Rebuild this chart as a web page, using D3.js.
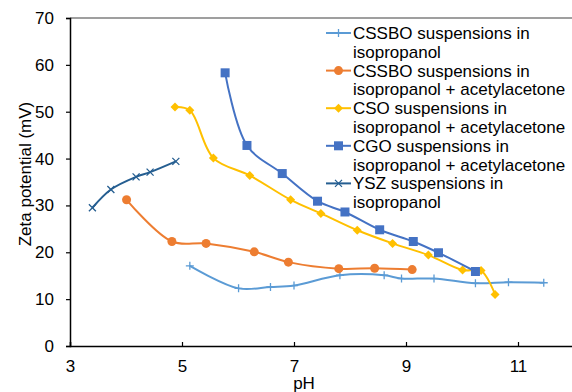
<!DOCTYPE html>
<html>
<head>
<meta charset="utf-8">
<script src="https://cdn.jsdelivr.net/npm/d3@7"></script>
<style>
  body { margin: 0; background: #fff; }
  text { font-family: "Liberation Sans", Arial, sans-serif; }
</style>
</head>
<body>
<script>
// zeta potential vs pH

const cssboPH   = [5.14, 6.01, 6.58, 7.0, 7.82, 8.61, 8.92, 9.5, 10.24, 10.83, 11.46];
const cssboZeta = [17.1, 12.3, 12.6, 12.9, 15.1, 15.1, 14.4, 14.4, 13.4, 13.6, 13.5];

const cssboAcPH   = [4.01, 4.82, 5.43, 6.29, 6.90, 7.80, 8.44, 9.11];
const cssboAcZeta = [31.2, 22.3, 21.9, 20.1, 17.9, 16.5, 16.6, 16.3];

const csoPH   = [4.875, 5.14, 5.56, 6.21, 6.94, 7.48, 8.13, 8.76, 9.40, 10.01, 10.34, 10.59];
const csoZeta = [51.0, 50.3, 40.1, 36.4, 31.2, 28.3, 24.7, 21.9, 19.4, 16.2, 16.1, 11.0];

const cgoPH   = [5.77, 6.16, 6.79, 7.42, 7.91, 8.53, 9.13, 9.58, 10.24];
const cgoZeta = [58.3, 42.8, 36.8, 30.9, 28.6, 24.8, 22.3, 19.9, 15.9];

const yszPH   = [3.40, 3.73, 4.18, 4.43, 4.89];
const yszZeta = [29.5, 33.4, 36.1, 37.1, 39.4];

const seriesNames = [
  ['CSSBO suspensions in', 'isopropanol'],
  ['CSSBO suspensions in', 'isopropanol + acetylacetone'],
  ['CSO suspensions in', 'isopropanol + acetylacetone'],
  ['CGO suspensions in', 'isopropanol + acetylacetone'],
  ['YSZ suspensions in', 'isopropanol']
];
const seriesColors = ['#5B9BD5', '#ED7D31', '#FFC000', '#4472C4', '#255E91'];
const seriesMarkers = ['plus', 'circle', 'diamond', 'square', 'cross'];

const xTicks = [3, 5, 7, 9, 11];
const yTicks = [0, 10, 20, 30, 40, 50, 60, 70];

const width = 572;
const height = 392;
const fontSize = '17px';

const series = [
  [cssboPH, cssboZeta],
  [cssboAcPH, cssboAcZeta],
  [csoPH, csoZeta],
  [cgoPH, cgoZeta],
  [yszPH, yszZeta]
].map((s, i) => ({
  name: seriesNames[i],
  color: seriesColors[i],
  marker: seriesMarkers[i],
  points: s[0].map((x, j) => ({ x: x, y: s[1][j] }))
}));

const svg = d3.select('body')
  .append('svg')
  .attr('width', width)
  .attr('height', height);

const x = d3.scaleLinear().domain([3, 12]).range([70, 574]);
const y = d3.scaleLinear().domain([0, 70]).range([346, 18]);

// top frame line
svg.append('line')
  .attr('x1', x(3)).attr('x2', width)
  .attr('y1', y(70)).attr('y2', y(70))
  .attr('stroke', '#7f7f7f')
  .attr('stroke-width', 1.5);

// axes
const yAxis = svg.append('g')
  .attr('transform', `translate(${x(3)},0)`)
  .call(d3.axisLeft(y).tickValues(yTicks).tickSize(4).tickPadding(12));

const xAxis = svg.append('g')
  .attr('transform', `translate(0,${y(0)})`)
  .call(d3.axisBottom(x).tickValues(xTicks).tickSize(-4).tickPadding(14));

[yAxis, xAxis].forEach(g => {
  g.select('.domain').attr('stroke', '#000').attr('stroke-width', 1.5);
  g.selectAll('.tick line').attr('stroke', '#000').attr('stroke-width', 1.2);
  g.selectAll('.tick text')
    .attr('font-size', fontSize)
    .attr('fill', '#000')
    .style('font-family', '"Liberation Sans", Arial, sans-serif');
});

// axis titles
svg.append('text')
  .attr('transform', 'translate(31,174) rotate(-90)')
  .attr('text-anchor', 'middle')
  .attr('font-size', fontSize)
  .text('Zeta potential (mV)');

svg.append('text')
  .attr('x', 304)
  .attr('y', 389)
  .attr('text-anchor', 'middle')
  .attr('font-size', fontSize)
  .text('pH');

// smooth lines like a spreadsheet chart
const line = d3.line()
  .x(d => x(d.x))
  .y(d => y(d.y))
  .curve(d3.curveCatmullRom.alpha(0.5));

function drawMarker(g, kind, color) {
  if (kind === 'circle') {
    g.append('circle').attr('r', 4.5).attr('fill', color);
  } else if (kind === 'square') {
    g.append('rect').attr('x', -4.5).attr('y', -4.5)
      .attr('width', 9).attr('height', 9).attr('fill', color);
  } else if (kind === 'diamond') {
    g.append('path').attr('d', 'M0,-4.5L4.5,0L0,4.5L-4.5,0Z').attr('fill', color);
  } else if (kind === 'plus') {
    g.append('path').attr('d', 'M-4,0H4M0,-4V4')
      .attr('stroke', color).attr('stroke-width', 1.3);
  } else if (kind === 'cross') {
    g.append('path').attr('d', 'M-3.5,-3.5L3.5,3.5M-3.5,3.5L3.5,-3.5')
      .attr('stroke', color).attr('stroke-width', 1.3);
  }
}

series.forEach(s => {
  svg.append('path')
    .datum(s.points)
    .attr('d', line)
    .attr('fill', 'none')
    .attr('stroke', s.color)
    .attr('stroke-width', 2);

  s.points.forEach(p => {
    const g = svg.append('g').attr('transform', `translate(${x(p.x)},${y(p.y)})`);
    drawMarker(g, s.marker, s.color);
  });
});

// legend
const legend = svg.append('g').attr('transform', 'translate(326,33)');
series.forEach((s, i) => {
  const g = legend.append('g').attr('transform', `translate(0,${i * 37.6})`);
  g.append('line')
    .attr('x1', 0).attr('x2', 25)
    .attr('stroke', s.color)
    .attr('stroke-width', 2);
  drawMarker(g.append('g').attr('transform', 'translate(12.5,0)'), s.marker, s.color);
  s.name.forEach((t, k) => {
    g.append('text')
      .attr('x', 27)
      .attr('y', k * 18.8 + 6)
      .attr('font-size', fontSize)
      .text(t);
  });
});
</script>
</body>
</html>
